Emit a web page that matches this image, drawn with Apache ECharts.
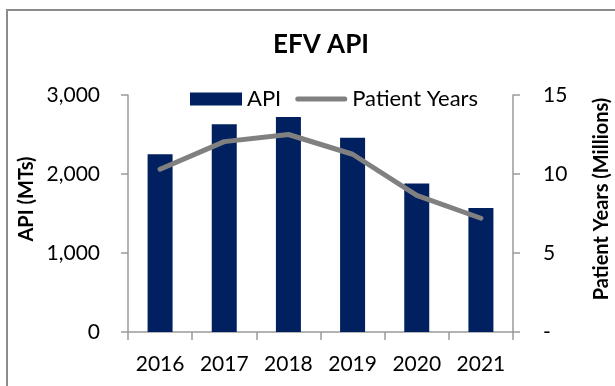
<!DOCTYPE html>
<html>
<head>
<meta charset="utf-8">
<style>
  html, body { margin: 0; padding: 0; background: #ffffff; }
  #chart { width: 615px; height: 386px; }
</style>
<script src="https://cdn.jsdelivr.net/npm/echarts@6/dist/echarts.min.js"></script>
</head>
<body>
<div id="chart"></div>
<script>
// EFV API volumes (MTs) and patient years (millions), 2016-2021
const years = ['2016', '2017', '2018', '2019', '2020', '2021'];
const apiVolumes = [2250, 2630, 2720, 2460, 1880, 1570];
const patientYears = [10.3, 12.05, 12.5, 11.25, 8.65, 7.2];
const leftTicks = [0, 1000, 2000, 3000];
const rightTicks = [0, 5, 10, 15];

const FONT = 'Lato, "Liberation Sans", sans-serif';
const AXIS_GREY = '#9a9a9a';
const LINE_GREY = '#808080';

const chart = echarts.init(document.getElementById('chart'), null, { renderer: 'canvas' });

chart.setOption({
  backgroundColor: '#ffffff',
  animation: false,
  title: {
    text: 'EFV API',
    left: 316,
    textAlign: 'center',
    top: 27,
    textStyle: { fontFamily: FONT, fontSize: 26, fontWeight: 'bold', color: '#000000' }
  },
  legend: {
    top: 83,
    left: 185,
    itemWidth: 52,
    itemHeight: 13,
    itemGap: 14,
    textStyle: { fontFamily: FONT, fontSize: 22, color: '#000000' },
    data: [
      { name: 'API', icon: 'rect' },
      {
        name: 'Patient Years',
        // thick rounded stroke, no marker
        icon: 'path://M2.5,0 L49.5,0 A2.5,2.5 0 0 1 49.5,5 L2.5,5 A2.5,2.5 0 0 1 2.5,0 Z',
        itemStyle: { color: LINE_GREY }
      }
    ]
  },
  graphic: [
    {
      type: 'rect',
      silent: true,
      shape: { x: 7, y: 10, width: 700, height: 500 },
      style: { fill: 'none', stroke: '#8c8c8c', lineWidth: 2 }
    },
    {
      type: 'text',
      x: 27, y: 199,
      rotation: Math.PI / 2,
      style: {
        text: 'API (MTs)', fontFamily: FONT, fontSize: 20, fontWeight: 'bold',
        fill: '#000000', align: 'center', verticalAlign: 'middle'
      }
    },
    {
      type: 'text',
      x: 602, y: 199,
      rotation: Math.PI / 2,
      style: {
        text: 'Patient Years (Millions)', fontFamily: FONT, fontSize: 20, fontWeight: 'bold',
        fill: '#000000', align: 'center', verticalAlign: 'middle'
      }
    }
  ],
  grid: { left: 128, right: 102, top: 95, bottom: 54, containLabel: false },
  xAxis: {
    type: 'category',
    data: years,
    boundaryGap: true,
    axisLine: { lineStyle: { color: AXIS_GREY, width: 1.5 } },
    axisTick: { show: true, length: 8, lineStyle: { color: AXIS_GREY, width: 1.5 } },
    axisLabel: { fontFamily: FONT, fontSize: 21, color: '#000000', margin: 22 }
  },
  yAxis: [
    {
      type: 'value',
      min: leftTicks[0],
      max: leftTicks[leftTicks.length - 1],
      interval: leftTicks[1] - leftTicks[0],
      splitLine: { show: false },
      axisLine: { show: true, lineStyle: { color: AXIS_GREY, width: 1.5 } },
      axisTick: { show: true, length: 7, lineStyle: { color: AXIS_GREY, width: 1.5 } },
      axisLabel: {
        fontFamily: FONT, fontSize: 21, color: '#000000', margin: 28,
        formatter: v => v.toLocaleString('en-US')
      }
    },
    {
      type: 'value',
      position: 'right',
      min: rightTicks[0],
      max: rightTicks[rightTicks.length - 1],
      interval: rightTicks[1] - rightTicks[0],
      splitLine: { show: false },
      axisLine: { show: true, lineStyle: { color: AXIS_GREY, width: 1.5 } },
      axisTick: { show: true, length: 7, lineStyle: { color: AXIS_GREY, width: 1.5 } },
      axisLabel: {
        fontFamily: FONT, fontSize: 21, color: '#000000', margin: 30,
        formatter: v => (v === 0 ? '-' : String(v))
      }
    }
  ],
  series: [
    {
      name: 'API',
      type: 'bar',
      yAxisIndex: 0,
      data: apiVolumes,
      barWidth: 25,
      itemStyle: { color: '#002060' }
    },
    {
      name: 'Patient Years',
      type: 'line',
      yAxisIndex: 1,
      data: patientYears,
      symbol: 'none',
      lineStyle: { color: LINE_GREY, width: 5, cap: 'round', join: 'round' },
      itemStyle: { color: LINE_GREY }
    }
  ]
});
</script>
</body>
</html>
